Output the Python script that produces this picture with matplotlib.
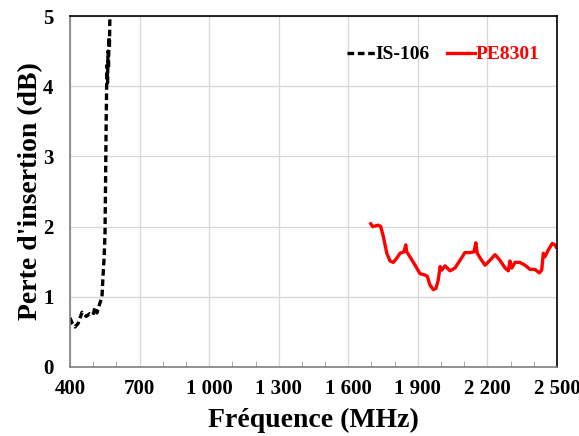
import numpy as np
import matplotlib.pyplot as plt
from matplotlib.ticker import FuncFormatter, FixedLocator

# IS-106 (black dashed)
f_is = [400, 410, 421, 435, 452, 470, 485, 499, 508, 516, 528, 538, 542, 547, 551,
        554, 556, 558, 560, 562, 564, 566, 568, 570, 572]
v_is = [0.70, 0.62, 0.57, 0.62, 0.78, 0.72, 0.76, 0.74, 0.85, 0.77, 0.90, 1.00, 1.28,
        1.55, 1.90, 2.85, 3.50, 4.00, 4.30, 4.05, 4.50, 4.25, 4.70, 4.55, 5.00]

# PE8301 (red)
f_pe = [1697, 1705, 1730, 1740, 1751, 1766, 1780, 1794, 1809, 1823, 1840, 1848, 1852,
        1866, 1888, 1909, 1931, 1941, 1952, 1967, 1978, 1988, 1996, 2003, 2017, 2039,
        2060, 2082, 2103, 2125, 2142, 2150, 2156, 2175, 2190, 2211, 2233, 2254, 2276,
        2290, 2297, 2305, 2319, 2340, 2362, 2384, 2405, 2424, 2434, 2441, 2448, 2463,
        2480, 2491, 2496]
v_pe = [2.04, 2.00, 2.02, 2.00, 1.86, 1.62, 1.51, 1.49, 1.55, 1.62, 1.64, 1.74, 1.64,
        1.57, 1.45, 1.33, 1.31, 1.29, 1.17, 1.10, 1.12, 1.24, 1.43, 1.38, 1.44, 1.37,
        1.41, 1.52, 1.63, 1.63, 1.64, 1.77, 1.62, 1.52, 1.45, 1.52, 1.60, 1.52, 1.41,
        1.37, 1.51, 1.41, 1.49, 1.49, 1.45, 1.39, 1.39, 1.34, 1.38, 1.62, 1.57, 1.67,
        1.76, 1.74, 1.71]

x_ticks = [400, 700, 1000, 1300, 1600, 1900, 2200, 2500]

plt.rcParams['font.family'] = ['Liberation Serif', 'DejaVu Serif']
plt.rcParams['font.weight'] = 'bold'

fig = plt.figure(figsize=(5.79, 4.36), dpi=100)
ax = fig.add_axes([0.1209, 0.1583, 0.8411, 0.805])

ax.plot(f_is, v_is, color='black', linestyle=(0, (2.0, 1.1)), linewidth=2.4, label='IS-106')
ax.plot(f_pe, v_pe, color='red', linewidth=2.4, label='PE8301')

ax.set_xlim(400, 2500)
ax.set_ylim(0, 5)
ax.xaxis.set_major_locator(FixedLocator(x_ticks))
ax.xaxis.set_minor_locator(FixedLocator(np.arange(400, 2501, 100)))
ax.set_yticks([0, 1, 2, 3, 4, 5])
ax.xaxis.set_major_formatter(FuncFormatter(lambda x, p: f'{int(x):,}'.replace(',', ' ')))

ax.grid(True, which='major', color='#d9d9d9', linewidth=1)
ax.set_axisbelow(True)
ax.tick_params(axis='x', which='major', length=0, labelsize=15, pad=9)
ax.tick_params(axis='x', which='minor', direction='in', length=4, color='#999999')
ax.tick_params(axis='y', length=0, labelsize=15, pad=12)

for s in ax.spines.values():
    s.set_color('black')
    s.set_linewidth(1.2)
for s in ['left', 'bottom']:
    ax.spines[s].set_color('#7f7f7f')

ax.set_xlabel('Fréquence (MHz)', fontsize=20, fontweight='bold', labelpad=6)
ax.set_ylabel("Perte d'insertion (dB)", fontsize=20, fontweight='bold', labelpad=0)

leg = ax.legend(loc='upper right', bbox_to_anchor=(1.0, 0.965), ncol=2, frameon=False,
                fontsize=14, handlelength=1.4, handletextpad=0.05, columnspacing=0.9,
                labelcolor='linecolor')

fig.savefig('out.png', dpi=100)
